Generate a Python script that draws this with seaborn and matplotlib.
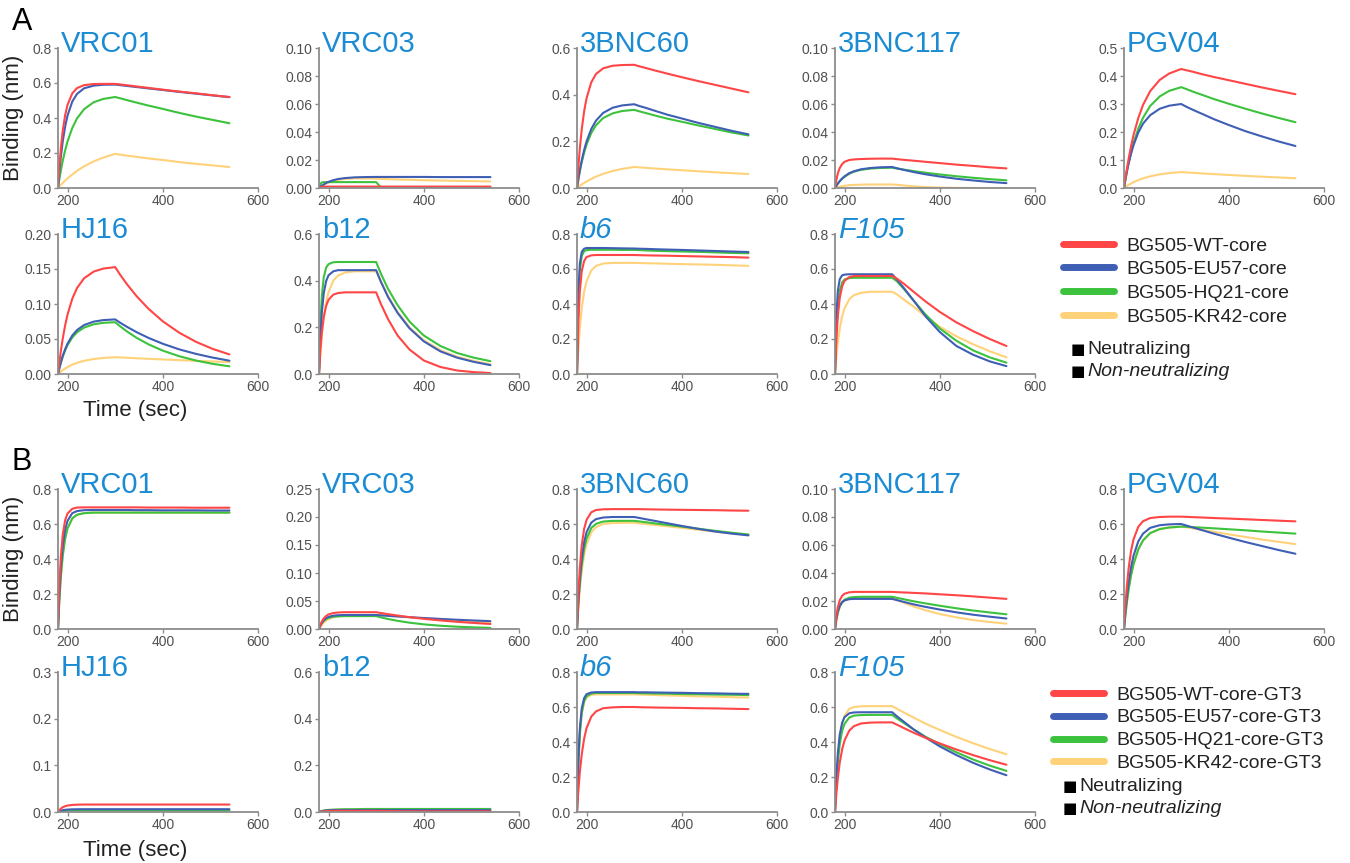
import numpy as np
import pandas as pd
import matplotlib
matplotlib.use("Agg")
import matplotlib.pyplot as plt
import seaborn as sns
from matplotlib.lines import Line2D

# sample times (sec) shared by every sensorgram: association 180-300, dissociation 300-540
times = [180, 183, 186, 190, 195, 200, 210, 220, 235, 255, 275, 300,
         310, 325, 345, 370, 400, 435, 470, 505, 540]

constructs_a = ["BG505-WT-core", "BG505-EU57-core", "BG505-HQ21-core", "BG505-KR42-core"]
constructs_b = ["BG505-WT-core-GT3", "BG505-EU57-core-GT3", "BG505-HQ21-core-GT3", "BG505-KR42-core-GT3"]
colors = ["#ff4545", "#3f5fb5", "#3cc23c", "#ffd27a"]

# ---- panel A (core), rows: WT, EU57, HQ21, KR42 ----
a_vrc01 = [
    [0, 0.127, 0.227, 0.328, 0.416, 0.475, 0.541, 0.571, 0.588, 0.594, 0.595, 0.595, 0.592, 0.587, 0.580, 0.572, 0.562, 0.551, 0.541, 0.530, 0.520],
    [0, 0.098, 0.179, 0.267, 0.351, 0.414, 0.494, 0.538, 0.570, 0.585, 0.590, 0.591, 0.588, 0.583, 0.577, 0.569, 0.560, 0.549, 0.539, 0.529, 0.519],
    [0, 0.053, 0.100, 0.156, 0.215, 0.266, 0.343, 0.398, 0.451, 0.490, 0.509, 0.520, 0.513, 0.502, 0.488, 0.471, 0.452, 0.429, 0.408, 0.389, 0.370],
    [0, 0.009, 0.018, 0.029, 0.042, 0.055, 0.077, 0.098, 0.124, 0.152, 0.174, 0.195, 0.191, 0.185, 0.178, 0.169, 0.160, 0.148, 0.138, 0.129, 0.120],
]
a_vrc03 = [
    [0, 0.0005, 0.0008, 0.001, 0.001, 0.001, 0.001, 0.001, 0.001, 0.001, 0.001, 0.001, 0.001, 0.001, 0.001, 0.001, 0.001, 0.001, 0.001, 0.001, 0.001],
    [0, 0.0009, 0.0017, 0.0026, 0.0036, 0.0044, 0.0056, 0.0064, 0.0071, 0.0076, 0.0078, 0.0079, 0.0079, 0.0079, 0.0079, 0.0079, 0.0079, 0.0078, 0.0078, 0.0078, 0.0078],
    [0, 0.003, 0.004, 0.0042, 0.0042, 0.0042, 0.0042, 0.0042, 0.0042, 0.0042, 0.0042, 0.0042, 0.0004, 0.0004, 0.0004, 0.0004, 0.0004, 0.0004, 0.0004, 0.0004, 0.0004],
    [0, 0.0006, 0.0012, 0.002, 0.003, 0.0038, 0.005, 0.0058, 0.0065, 0.0069, 0.0068, 0.0066, 0.0065, 0.0063, 0.0061, 0.0059, 0.0056, 0.0053, 0.0051, 0.0049, 0.0047],
]
a_3bnc60 = [
    [0, 0.093, 0.171, 0.252, 0.329, 0.384, 0.453, 0.489, 0.513, 0.524, 0.527, 0.528, 0.522, 0.514, 0.503, 0.490, 0.475, 0.458, 0.442, 0.426, 0.410],
    [0, 0.041, 0.077, 0.119, 0.163, 0.199, 0.253, 0.289, 0.322, 0.344, 0.354, 0.359, 0.352, 0.343, 0.330, 0.314, 0.298, 0.279, 0.262, 0.245, 0.230],
    [0, 0.038, 0.072, 0.111, 0.152, 0.186, 0.236, 0.269, 0.300, 0.320, 0.330, 0.335, 0.329, 0.321, 0.310, 0.297, 0.284, 0.268, 0.253, 0.238, 0.225],
    [0, 0.0048, 0.0093, 0.015, 0.0217, 0.028, 0.039, 0.0487, 0.0607, 0.0729, 0.082, 0.090, 0.0885, 0.0863, 0.0834, 0.0799, 0.0761, 0.0716, 0.0675, 0.0635, 0.060],
]
a_3bnc117 = [
    [0, 0.0062, 0.0105, 0.0143, 0.0171, 0.0187, 0.020, 0.0204, 0.0207, 0.0209, 0.021, 0.021, 0.0206, 0.0201, 0.0195, 0.0187, 0.0178, 0.0167, 0.0158, 0.0148, 0.014],
    [0, 0.0017, 0.0032, 0.005, 0.0068, 0.0083, 0.0106, 0.012, 0.0134, 0.0143, 0.0148, 0.015, 0.0141, 0.0129, 0.0114, 0.0098, 0.0082, 0.0066, 0.0054, 0.0043, 0.0035],
    [0, 0.0016, 0.0031, 0.0048, 0.0066, 0.008, 0.0102, 0.0117, 0.013, 0.0139, 0.0143, 0.0145, 0.0139, 0.0131, 0.0121, 0.0109, 0.0097, 0.0084, 0.0073, 0.0063, 0.0055],
    [0, 0.0003, 0.0006, 0.0009, 0.0013, 0.0016, 0.002, 0.0022, 0.0024, 0.0025, 0.0025, 0.0025, 0.0023, 0.0018, 0.0012, 0.0007, 0.0003, 0.0001, 0, 0, 0],
]
a_pgv04 = [
    [0, 0.035, 0.068, 0.107, 0.151, 0.189, 0.250, 0.297, 0.346, 0.386, 0.409, 0.425, 0.421, 0.415, 0.406, 0.396, 0.385, 0.372, 0.359, 0.347, 0.335],
    [0, 0.031, 0.058, 0.090, 0.124, 0.153, 0.198, 0.230, 0.260, 0.283, 0.294, 0.300, 0.291, 0.279, 0.264, 0.245, 0.225, 0.203, 0.184, 0.166, 0.150],
    [0, 0.030, 0.058, 0.091, 0.128, 0.160, 0.212, 0.251, 0.293, 0.327, 0.347, 0.360, 0.354, 0.344, 0.332, 0.317, 0.301, 0.283, 0.266, 0.250, 0.235],
    [0, 0.0036, 0.0071, 0.0114, 0.0162, 0.0207, 0.0283, 0.0345, 0.0418, 0.0487, 0.0533, 0.057, 0.0559, 0.0542, 0.052, 0.0494, 0.0466, 0.0434, 0.0404, 0.0376, 0.035],
]
a_hj16 = [
    [0, 0.0174, 0.0328, 0.0508, 0.0695, 0.0849, 0.1076, 0.1229, 0.1369, 0.1463, 0.1506, 0.1527, 0.1423, 0.1281, 0.1112, 0.0932, 0.0753, 0.0588, 0.0459, 0.0358, 0.028],
    [0, 0.0089, 0.0168, 0.026, 0.0355, 0.0434, 0.055, 0.0628, 0.070, 0.0748, 0.077, 0.078, 0.0735, 0.0673, 0.0598, 0.0516, 0.0432, 0.0351, 0.0287, 0.0234, 0.019],
    [0, 0.0084, 0.0159, 0.0247, 0.0337, 0.0412, 0.0522, 0.0596, 0.0664, 0.071, 0.0731, 0.074, 0.0684, 0.0607, 0.0517, 0.0424, 0.0334, 0.0253, 0.0192, 0.0145, 0.011],
    [0, 0.0018, 0.0035, 0.0056, 0.0079, 0.0099, 0.0134, 0.016, 0.0189, 0.0214, 0.0229, 0.024, 0.0237, 0.0232, 0.0225, 0.0217, 0.0208, 0.0198, 0.0188, 0.0179, 0.017],
]
a_b12 = [
    [0, 0.106, 0.18, 0.245, 0.292, 0.318, 0.34, 0.347, 0.35, 0.35, 0.35, 0.35, 0.30, 0.235, 0.165, 0.105, 0.058, 0.03, 0.015, 0.008, 0.004],
    [0, 0.161, 0.264, 0.346, 0.398, 0.423, 0.44, 0.445, 0.445, 0.445, 0.445, 0.445, 0.395, 0.33, 0.262, 0.196, 0.14, 0.097, 0.07, 0.052, 0.038],
    [0, 0.217, 0.336, 0.415, 0.456, 0.471, 0.479, 0.48, 0.48, 0.48, 0.48, 0.48, 0.43, 0.365, 0.295, 0.225, 0.165, 0.12, 0.09, 0.07, 0.055],
    [0, 0.094, 0.168, 0.242, 0.308, 0.351, 0.40, 0.422, 0.435, 0.44, 0.44, 0.44, 0.397, 0.334, 0.266, 0.20, 0.145, 0.102, 0.074, 0.056, 0.042],
]
a_b6 = [
    [0, 0.307, 0.475, 0.588, 0.646, 0.668, 0.678, 0.68, 0.68, 0.68, 0.68, 0.68, 0.679, 0.678, 0.677, 0.676, 0.674, 0.672, 0.67, 0.668, 0.665],
    [0, 0.468, 0.632, 0.698, 0.716, 0.72, 0.72, 0.72, 0.72, 0.719, 0.718, 0.717, 0.716, 0.715, 0.713, 0.711, 0.709, 0.706, 0.703, 0.70, 0.697],
    [0, 0.421, 0.593, 0.675, 0.702, 0.708, 0.71, 0.71, 0.71, 0.71, 0.709, 0.709, 0.708, 0.706, 0.704, 0.702, 0.70, 0.698, 0.695, 0.692, 0.69],
    [0, 0.15, 0.265, 0.377, 0.471, 0.53, 0.592, 0.618, 0.631, 0.635, 0.635, 0.635, 0.634, 0.633, 0.632, 0.63, 0.628, 0.626, 0.624, 0.621, 0.618],
]
a_f105 = [
    [0, 0.203, 0.332, 0.435, 0.501, 0.532, 0.554, 0.56, 0.56, 0.56, 0.56, 0.56, 0.545, 0.515, 0.47, 0.415, 0.355, 0.295, 0.245, 0.20, 0.16],
    [0, 0.338, 0.476, 0.542, 0.564, 0.568, 0.57, 0.57, 0.57, 0.57, 0.57, 0.57, 0.54, 0.49, 0.42, 0.33, 0.24, 0.16, 0.11, 0.072, 0.045],
    [0, 0.248, 0.384, 0.476, 0.523, 0.54, 0.548, 0.55, 0.55, 0.55, 0.55, 0.55, 0.53, 0.485, 0.42, 0.34, 0.26, 0.19, 0.135, 0.095, 0.065],
    [0, 0.10, 0.179, 0.259, 0.329, 0.375, 0.427, 0.451, 0.464, 0.47, 0.47, 0.47, 0.455, 0.425, 0.385, 0.33, 0.27, 0.215, 0.17, 0.13, 0.095],
]

# ---- panel B (core-GT3) ----
b_vrc01 = [
    [0, 0.252, 0.412, 0.54, 0.622, 0.66, 0.687, 0.694, 0.695, 0.695, 0.695, 0.695, 0.695, 0.695, 0.695, 0.694, 0.694, 0.694, 0.693, 0.693, 0.693],
    [0, 0.205, 0.349, 0.475, 0.568, 0.618, 0.662, 0.674, 0.679, 0.68, 0.68, 0.68, 0.68, 0.68, 0.679, 0.679, 0.678, 0.678, 0.678, 0.677, 0.677],
    [0, 0.172, 0.30, 0.42, 0.517, 0.575, 0.632, 0.653, 0.662, 0.665, 0.665, 0.665, 0.665, 0.665, 0.665, 0.665, 0.665, 0.665, 0.665, 0.665, 0.665],
    [0, 0.172, 0.30, 0.42, 0.517, 0.575, 0.632, 0.653, 0.662, 0.665, 0.665, 0.665, 0.665, 0.665, 0.665, 0.665, 0.665, 0.665, 0.665, 0.665, 0.665],
]
b_vrc03 = [
    [0, 0.0078, 0.0135, 0.019, 0.0233, 0.026, 0.0285, 0.0295, 0.03, 0.03, 0.03, 0.03, 0.0285, 0.0265, 0.024, 0.0211, 0.0182, 0.0153, 0.0128, 0.0108, 0.009],
    [0, 0.0065, 0.0113, 0.0158, 0.0194, 0.0216, 0.0238, 0.0246, 0.025, 0.025, 0.025, 0.025, 0.0244, 0.0235, 0.0224, 0.0211, 0.0196, 0.018, 0.0165, 0.0152, 0.014],
    [0, 0.006, 0.0104, 0.0145, 0.0179, 0.0199, 0.0219, 0.0226, 0.023, 0.023, 0.023, 0.023, 0.0208, 0.0178, 0.0146, 0.0113, 0.0083, 0.0058, 0.0041, 0.0029, 0.002],
    [0, 0.0041, 0.0075, 0.0113, 0.0148, 0.0175, 0.0209, 0.0227, 0.0241, 0.0247, 0.025, 0.025, 0.0245, 0.0236, 0.0225, 0.021, 0.0193, 0.0174, 0.0156, 0.0134, 0.011],
]
b_3bnc60 = [
    [0, 0.207, 0.351, 0.479, 0.572, 0.623, 0.667, 0.68, 0.684, 0.685, 0.685, 0.685, 0.685, 0.684, 0.683, 0.682, 0.681, 0.68, 0.679, 0.677, 0.676],
    [0, 0.166, 0.289, 0.405, 0.497, 0.553, 0.608, 0.628, 0.637, 0.64, 0.64, 0.64, 0.635, 0.627, 0.617, 0.604, 0.589, 0.572, 0.557, 0.545, 0.535],
    [0, 0.146, 0.258, 0.366, 0.458, 0.516, 0.577, 0.601, 0.614, 0.618, 0.618, 0.618, 0.615, 0.61, 0.603, 0.595, 0.585, 0.573, 0.561, 0.55, 0.54],
    [0, 0.129, 0.231, 0.334, 0.424, 0.484, 0.552, 0.582, 0.60, 0.605, 0.607, 0.607, 0.604, 0.60, 0.594, 0.587, 0.578, 0.567, 0.557, 0.547, 0.538],
]
b_3bnc117 = [
    [0, 0.0096, 0.0157, 0.0206, 0.0237, 0.0252, 0.0262, 0.0265, 0.0265, 0.0265, 0.0265, 0.0265, 0.0263, 0.0261, 0.0258, 0.0254, 0.0248, 0.0241, 0.0233, 0.0224, 0.0215],
    [0, 0.0078, 0.0128, 0.0167, 0.0192, 0.0204, 0.0213, 0.0215, 0.0215, 0.0215, 0.0215, 0.0215, 0.0206, 0.0193, 0.0176, 0.0158, 0.0139, 0.0119, 0.0102, 0.0088, 0.0075],
    [0, 0.0069, 0.0118, 0.0161, 0.0192, 0.0209, 0.0224, 0.0228, 0.023, 0.023, 0.023, 0.023, 0.0223, 0.0212, 0.0198, 0.0183, 0.0166, 0.0148, 0.0132, 0.0118, 0.0105],
    [0, 0.0068, 0.0115, 0.0157, 0.0188, 0.0205, 0.0219, 0.0223, 0.0225, 0.0225, 0.0225, 0.0225, 0.0209, 0.0187, 0.0161, 0.0134, 0.0107, 0.0083, 0.0064, 0.005, 0.0038],
]
b_pgv04 = [
    [0, 0.137, 0.245, 0.354, 0.449, 0.512, 0.584, 0.616, 0.634, 0.64, 0.642, 0.642, 0.641, 0.639, 0.637, 0.634, 0.631, 0.627, 0.623, 0.619, 0.615],
    [0, 0.099, 0.181, 0.271, 0.356, 0.419, 0.501, 0.545, 0.578, 0.593, 0.598, 0.60, 0.592, 0.58, 0.564, 0.544, 0.522, 0.497, 0.474, 0.451, 0.43],
    [0, 0.081, 0.152, 0.23, 0.309, 0.37, 0.455, 0.506, 0.548, 0.571, 0.58, 0.585, 0.584, 0.582, 0.579, 0.575, 0.57, 0.564, 0.557, 0.551, 0.545],
    [0, 0.081, 0.152, 0.23, 0.309, 0.37, 0.455, 0.506, 0.548, 0.571, 0.58, 0.585, 0.582, 0.575, 0.566, 0.555, 0.541, 0.526, 0.511, 0.498, 0.485],
]
b_hj16 = [
    [0, 0.0041, 0.0072, 0.0101, 0.0124, 0.0138, 0.0152, 0.0157, 0.016, 0.016, 0.016, 0.016, 0.016, 0.016, 0.016, 0.016, 0.016, 0.016, 0.016, 0.016, 0.016],
    [0, 0.0015, 0.0027, 0.0038, 0.0047, 0.0052, 0.0057, 0.0059, 0.006, 0.006, 0.006, 0.006, 0.006, 0.006, 0.006, 0.006, 0.006, 0.006, 0.006, 0.006, 0.006],
    [0, 0.001, 0.0018, 0.0025, 0.0031, 0.0035, 0.0038, 0.0039, 0.004, 0.004, 0.004, 0.004, 0.004, 0.004, 0.004, 0.004, 0.004, 0.004, 0.004, 0.004, 0.004],
    [0, 0.0008, 0.0014, 0.0019, 0.0023, 0.0026, 0.0029, 0.003, 0.003, 0.003, 0.003, 0.003, 0.003, 0.003, 0.003, 0.003, 0.003, 0.003, 0.003, 0.003, 0.003],
]
b_b12 = [
    [0, 0.001, 0.002, 0.003, 0.004, 0.0045, 0.005, 0.005, 0.005, 0.005, 0.005, 0.005, 0.0045, 0.004, 0.0035, 0.003, 0.003, 0.003, 0.003, 0.003, 0.003],
    [0, 0.002, 0.003, 0.005, 0.006, 0.007, 0.008, 0.008, 0.008, 0.008, 0.008, 0.008, 0.008, 0.008, 0.008, 0.008, 0.008, 0.008, 0.008, 0.008, 0.008],
    [0, 0.002, 0.004, 0.006, 0.008, 0.009, 0.010, 0.011, 0.012, 0.012, 0.013, 0.013, 0.013, 0.013, 0.013, 0.013, 0.013, 0.013, 0.013, 0.013, 0.013],
    [0, 0.002, 0.004, 0.005, 0.007, 0.008, 0.009, 0.0095, 0.010, 0.010, 0.010, 0.010, 0.010, 0.010, 0.010, 0.010, 0.010, 0.010, 0.010, 0.010, 0.010],
]
b_b6 = [
    [0, 0.128, 0.229, 0.331, 0.419, 0.479, 0.545, 0.575, 0.593, 0.598, 0.60, 0.60, 0.599, 0.598, 0.597, 0.596, 0.595, 0.593, 0.592, 0.59, 0.588],
    [0, 0.309, 0.479, 0.593, 0.651, 0.673, 0.683, 0.685, 0.685, 0.685, 0.685, 0.685, 0.684, 0.684, 0.683, 0.682, 0.681, 0.679, 0.678, 0.676, 0.675],
    [0, 0.284, 0.449, 0.568, 0.634, 0.661, 0.677, 0.68, 0.68, 0.68, 0.68, 0.68, 0.679, 0.678, 0.677, 0.676, 0.674, 0.673, 0.671, 0.67, 0.668],
    [0, 0.28, 0.444, 0.561, 0.627, 0.654, 0.669, 0.672, 0.672, 0.672, 0.672, 0.672, 0.671, 0.67, 0.668, 0.666, 0.664, 0.661, 0.659, 0.656, 0.654],
]
b_f105 = [
    [0, 0.109, 0.195, 0.282, 0.358, 0.409, 0.465, 0.491, 0.506, 0.511, 0.512, 0.512, 0.499, 0.479, 0.453, 0.424, 0.392, 0.357, 0.325, 0.296, 0.27],
    [0, 0.206, 0.338, 0.443, 0.51, 0.542, 0.564, 0.569, 0.57, 0.57, 0.57, 0.57, 0.547, 0.515, 0.472, 0.426, 0.375, 0.325, 0.281, 0.243, 0.21],
    [0, 0.168, 0.285, 0.388, 0.464, 0.504, 0.54, 0.551, 0.554, 0.555, 0.555, 0.555, 0.535, 0.508, 0.472, 0.43, 0.388, 0.341, 0.30, 0.265, 0.235],
    [0, 0.183, 0.31, 0.423, 0.505, 0.55, 0.589, 0.60, 0.604, 0.605, 0.605, 0.605, 0.59, 0.568, 0.54, 0.505, 0.469, 0.429, 0.393, 0.36, 0.33],
]

# name, data, y max, y step, tick format, italic title, (row, col)
panels = [
    ("VRC01", a_vrc01, 0.8, 0.2, "{:.1f}", False, 0, 0),
    ("VRC03", a_vrc03, 0.10, 0.02, "{:.2f}", False, 0, 1),
    ("3BNC60", a_3bnc60, 0.6, 0.2, "{:.1f}", False, 0, 2),
    ("3BNC117", a_3bnc117, 0.10, 0.02, "{:.2f}", False, 0, 3),
    ("PGV04", a_pgv04, 0.5, 0.1, "{:.1f}", False, 0, 4),
    ("HJ16", a_hj16, 0.20, 0.05, "{:.2f}", False, 1, 0),
    ("b12", a_b12, 0.6, 0.2, "{:.1f}", False, 1, 1),
    ("b6", a_b6, 0.8, 0.2, "{:.1f}", True, 1, 2),
    ("F105", a_f105, 0.8, 0.2, "{:.1f}", True, 1, 3),
    ("VRC01", b_vrc01, 0.8, 0.2, "{:.1f}", False, 2, 0),
    ("VRC03", b_vrc03, 0.25, 0.05, "{:.2f}", False, 2, 1),
    ("3BNC60", b_3bnc60, 0.8, 0.2, "{:.1f}", False, 2, 2),
    ("3BNC117", b_3bnc117, 0.10, 0.02, "{:.2f}", False, 2, 3),
    ("PGV04", b_pgv04, 0.8, 0.2, "{:.1f}", False, 2, 4),
    ("HJ16", b_hj16, 0.3, 0.1, "{:.1f}", False, 3, 0),
    ("b12", b_b12, 0.6, 0.2, "{:.1f}", False, 3, 1),
    ("b6", b_b6, 0.8, 0.2, "{:.1f}", True, 3, 2),
    ("F105", b_f105, 0.8, 0.2, "{:.1f}", True, 3, 3),
]

W, H = 1350, 863
col_left = [58, 319, 577, 835, 1124]
row_span = [(48, 188), (234, 374), (489, 629), (672, 812)]
AX_W = 200
TITLE_BLUE = "#1b8bd3"
SPINE = "#8c8c8c"
TICK_TXT = "#505050"
TEXT = "#222222"

sns.set_theme(style="ticks")
plt.rcParams["font.family"] = ["Liberation Sans", "DejaVu Sans"]

fig = plt.figure(figsize=(W / 100, H / 100), dpi=100)


def add_panel(name, data, ymax, ystep, fmt, italic, row, col):
    top, bottom = row_span[row]
    rect = [col_left[col] / W, 1 - bottom / H, AX_W / W, (bottom - top) / H]
    ax = fig.add_axes(rect)
    labels = constructs_a if row < 2 else constructs_b
    df = pd.DataFrame({
        "time": times * 4,
        "binding": [v for series in data for v in series],
        "construct": [lab for lab in labels for _ in times],
    })
    # yellow first so red ends on top
    sns.lineplot(data=df, x="time", y="binding", hue="construct",
                 hue_order=labels[::-1], palette=dict(zip(labels, colors)),
                 estimator=None, legend=False, linewidth=1.5, ax=ax)
    ax.set_xlim(180, 600)
    ax.set_ylim(0, ymax)
    ax.set_xticks([200, 400, 600])
    yt = np.arange(0, ymax + ystep / 2, ystep)
    ax.set_yticks(yt)
    ax.set_yticklabels([fmt.format(v) for v in yt])
    ax.set_xlabel("")
    ax.set_ylabel("")
    sns.despine(ax=ax)
    for s in ("left", "bottom"):
        ax.spines[s].set_color(SPINE)
        ax.spines[s].set_linewidth(1.3)
    ax.tick_params(length=3, width=1, color=SPINE, labelsize=10,
                   labelcolor=TICK_TXT, pad=1.5)
    ax.text(0.015, 0.975, name, transform=ax.transAxes, fontsize=21,
            color=TITLE_BLUE, style="italic" if italic else "normal",
            ha="left", va="baseline")
    return ax


axes = [add_panel(*p) for p in panels]

axes[0].set_ylabel("Binding (nm)", fontsize=16, color=TEXT, labelpad=6)
axes[9].set_ylabel("Binding (nm)", fontsize=16, color=TEXT, labelpad=6)
fig.text(135 / W, 1 - 410 / H, "Time (sec)", fontsize=16, ha="center", va="center", color=TEXT)
fig.text(135 / W, 1 - 850 / H, "Time (sec)", fontsize=16, ha="center", va="center", color=TEXT)

fig.text(12 / W, 1 - 30 / H, "A", fontsize=22, color="black")
fig.text(12 / W, 1 - 470 / H, "B", fontsize=22, color="black")


def add_key(labels, top_px, x_line, spacing):
    handles = [Line2D([], [], color=c, linewidth=5, solid_capstyle="round") for c in colors]
    leg = fig.legend(handles, labels, loc="upper left",
                     bbox_to_anchor=(x_line / W, 1 - top_px / H),
                     frameon=False, fontsize=14, handlelength=2.6,
                     handletextpad=0.65, labelspacing=spacing, borderaxespad=0,
                     borderpad=0)
    for t in leg.get_texts():
        t.set_color(TEXT)
    return leg


add_key(constructs_a, 237, 1063, 0.31)
add_key(constructs_b, 686, 1053, 0.27)

for y_px, x_sq in ((349, 1071), (786, 1063)):
    for dy, word, sty in ((0, "Neutralizing", "normal"), (22, "Non-neutralizing", "italic")):
        fig.text(x_sq / W, 1 - (y_px + dy) / H, "\u25a0", fontsize=11, va="center",
                 family=["DejaVu Sans"], color="black")
        fig.text((x_sq + 16) / W, 1 - (y_px + dy) / H, word, fontsize=14,
                 va="center", style=sty, color=TEXT)

fig.savefig("out.png", dpi=100)
